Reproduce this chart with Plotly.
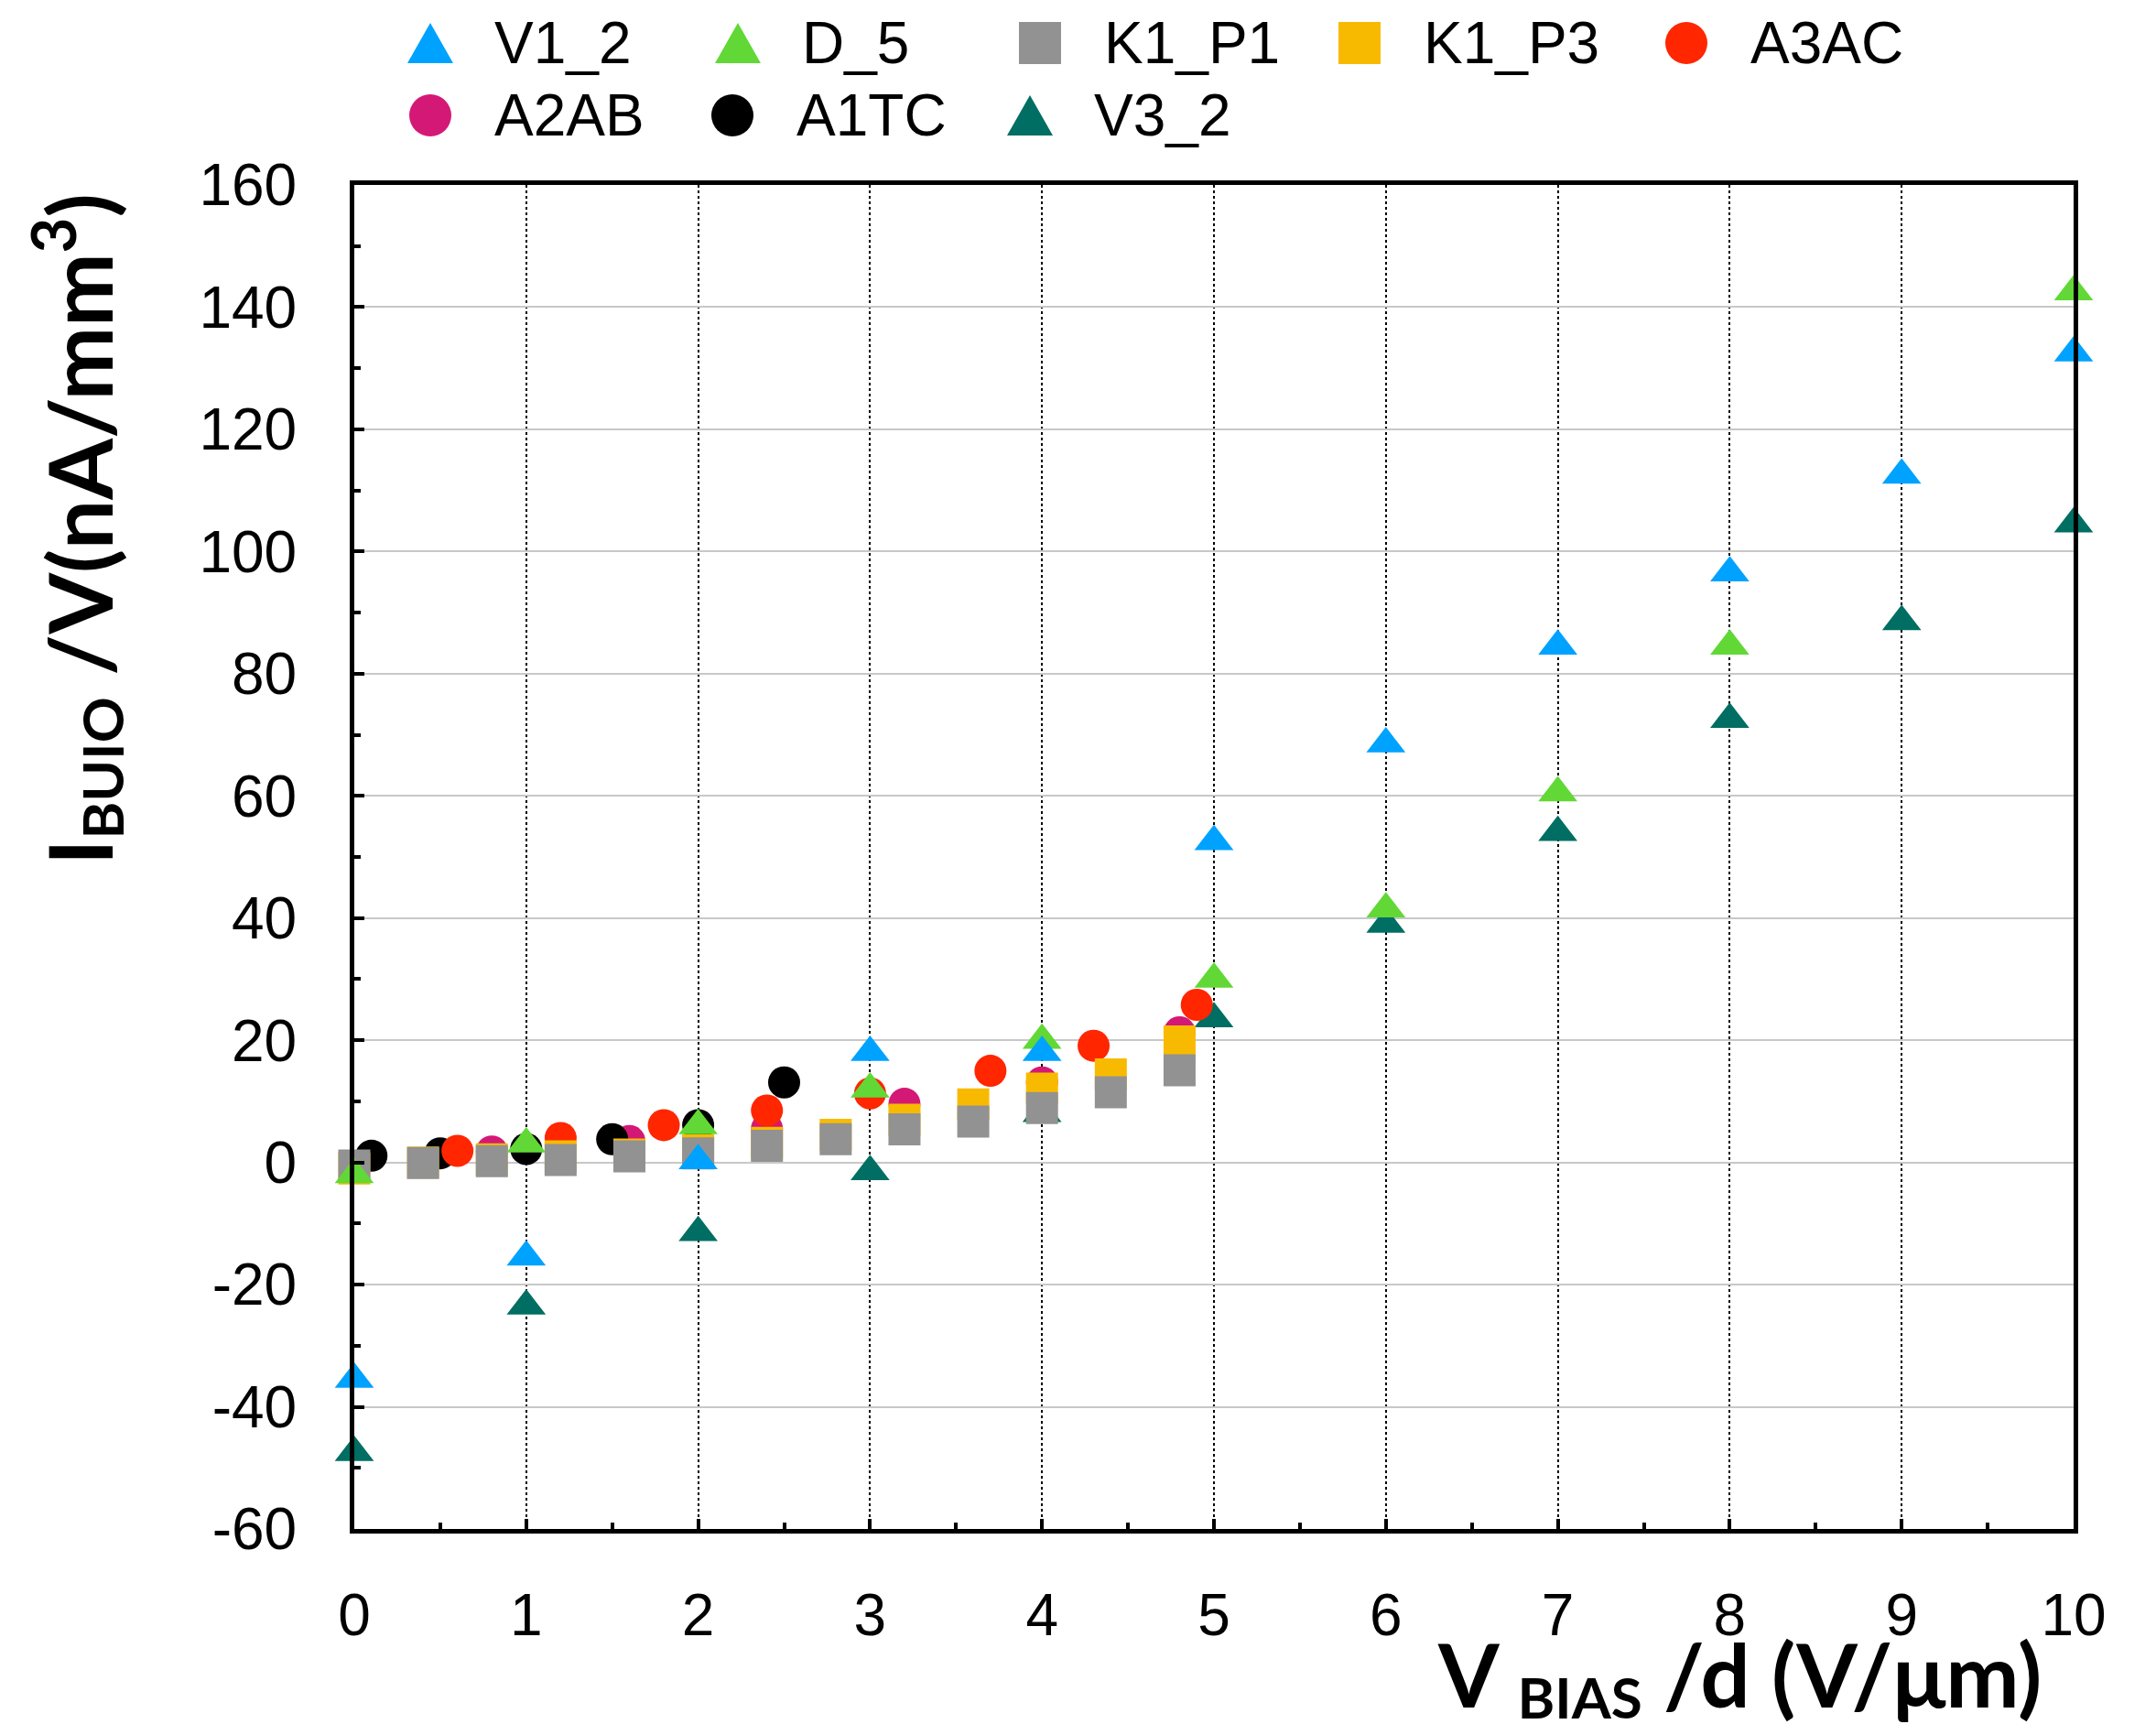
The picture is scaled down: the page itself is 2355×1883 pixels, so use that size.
import plotly.graph_objects as go

# ---------------- data ----------------
x_v1_2 = [0, 1, 2, 3, 4, 5, 6, 7, 8, 9, 10]
v1_2 = [-35.5, -15.5, 0.3, 18, 18, 52.5, 68.5, 84.5, 96.5, 112.5, 132.5]

x_d_5 = [0, 1, 2, 3, 4, 5, 6, 7, 8, 10]
d_5 = [-2, 3, 6, 12, 20, 30, 41.5, 60.5, 84.5, 142.5]

x_v3_2 = [0, 1, 2, 3, 4, 5, 6, 7, 8, 9, 10]
v3_2 = [-47.5, -23.5, -11.5, -1.5, 8, 23.5, 39, 54, 72.5, 88.5, 104.5]

x_k1 = [0, 0.4, 0.8, 1.2, 1.6, 2.0, 2.4, 2.8, 3.2, 3.6, 4.0, 4.4, 4.8]
k1_p1 = [-0.5, -0.1, 0.2, 0.4, 1.0, 1.5, 2.7, 3.8, 5.4, 6.7, 8.9, 11.5, 15.1]
k1_p3 = [-1.0, 0.0, 0.5, 1.0, 1.3, 2.0, 3.2, 4.5, 7.0, 9.5, 12.1, 14.4, 19.8]

x_a3ac = [0.6, 1.2, 1.8, 2.4, 3.0, 3.7, 4.3, 4.9]
a3ac = [1.9, 4.0, 6.1, 8.5, 11.3, 15.0, 19.1, 25.8]

x_a2ab = [0.8, 1.6, 2.4, 3.2, 4.0, 4.8]
a2ab = [1.8, 3.5, 5.5, 9.6, 13.1, 21.3]

x_a1tc = [0.1, 0.5, 1.0, 1.5, 2.0, 2.5]
a1tc = [1.1, 1.5, 2.2, 3.8, 6.1, 13.1]

x_ticks = [0, 1, 2, 3, 4, 5, 6, 7, 8, 9, 10]
x_ticklabels = ["0", "1", "2", "3", "4", "5", "6", "7", "8", "9", "10"]
y_ticks = [-60, -40, -20, 0, 20, 40, 60, 80, 100, 120, 140, 160]
y_ticklabels = ["-60", "-40", "-20", "0", "20", "40", "60", "80", "100", "120", "140", "160"]

# ---------------- styles ----------------
C_V1 = "#00A2FF"
C_D5 = "#61D836"
C_V3 = "#006E62"
C_K1P1 = "#929292"
C_K1P3 = "#F8BA00"
C_A3 = "#FF2600"
C_A2 = "#D41876"
C_A1 = "#000000"

W, H = 2355, 1883
ML, MR, MT, MB = 387, 90, 202, 213
PW, PH = W - ML - MR, H - MT - MB


def px(xp):
    return (xp - ML) / PW


def py(yp):
    return (H - MB - yp) / PH


TICK_FONT = dict(family="Liberation Sans, Arial, sans-serif", size=64, color="black")
TITLE_FONT = dict(family="Lato, DejaVu Sans, sans-serif", size=96, color="black", weight="bold")
SUB_STYLE = "font-size:62px;baseline-shift:-12px"

fig = go.Figure()

# drawing order (bottom -> top)
series = [
    ("V3_2", x_v3_2, v3_2, C_V3, "triangle-up", 37),
    ("A2AB", x_a2ab, a2ab, C_A2, "circle", 35),
    ("A1TC", x_a1tc, a1tc, C_A1, "circle", 35),
    ("A3AC", x_a3ac, a3ac, C_A3, "circle", 35),
    ("K1_P3", x_k1, k1_p3, C_K1P3, "square", 35),
    ("K1_P1", x_k1, k1_p1, C_K1P1, "square", 35),
    ("D_5", x_d_5, d_5, C_D5, "triangle-up", 37),
    ("V1_2", x_v1_2, v1_2, C_V1, "triangle-up", 37),
]
for name, xs, ys, col, sym, sz in series:
    fig.add_trace(go.Scatter(
        x=xs, y=ys, name=name, mode="markers", cliponaxis=False,
        marker=dict(color=col, symbol=sym, size=sz, line=dict(width=0)),
        showlegend=False,
    ))

# ---------------- custom legend ----------------
legend_items = [
    ("V1_2", C_V1, "tri", 470, 47),
    ("D_5", C_D5, "tri", 806, 47),
    ("K1_P1", C_K1P1, "sq", 1136, 47),
    ("K1_P3", C_K1P3, "sq", 1485, 47),
    ("A3AC", C_A3, "circ", 1842, 47),
    ("A2AB", C_A2, "circ", 470, 126),
    ("A1TC", C_A1, "circ", 800, 126),
    ("V3_2", C_V3, "tri", 1125, 126),
]
shapes = []
annotations = []
for name, col, kind, cx, cy in legend_items:
    if kind == "tri":
        w, h = 50, 44
        path = "M {:.5f},{:.5f} L {:.5f},{:.5f} L {:.5f},{:.5f} Z".format(
            px(cx - w / 2), py(cy + h / 2), px(cx + w / 2), py(cy + h / 2), px(cx), py(cy - h / 2))
        shapes.append(dict(type="path", xref="paper", yref="paper", path=path,
                           fillcolor=col, line=dict(width=0)))
    elif kind == "sq":
        s = 46
        shapes.append(dict(type="rect", xref="paper", yref="paper",
                           x0=px(cx - s / 2), x1=px(cx + s / 2), y0=py(cy + s / 2), y1=py(cy - s / 2),
                           fillcolor=col, line=dict(width=0)))
    else:
        d = 46
        shapes.append(dict(type="circle", xref="paper", yref="paper",
                           x0=px(cx - d / 2), x1=px(cx + d / 2), y0=py(cy + d / 2), y1=py(cy - d / 2),
                           fillcolor=col, line=dict(width=0)))
    annotations.append(dict(text=name, xref="paper", yref="paper", x=px(cx + 68), y=py(cy),
                            xanchor="left", yanchor="middle", showarrow=False, font=TICK_FONT))

# axis titles
annotations.append(dict(
    text="V <span style='" + SUB_STYLE + "'>BIAS</span> /d (V/μm)", xref="paper", yref="paper",
    x=px(1900), y=py(1830), xanchor="center", yanchor="middle", showarrow=False,
    font=TITLE_FONT))
annotations.append(dict(
    text="I<span style='" + SUB_STYLE + "'>BUIO</span> /V(nA/mm<sup>3</sup>)", xref="paper", yref="paper",
    x=px(82), y=py(578), xanchor="center", yanchor="middle", showarrow=False,
    textangle=-90, font=TITLE_FONT))

fig.update_layout(
    width=W, height=H,
    margin=dict(l=ML, r=MR, t=MT, b=MB, pad=0),
    paper_bgcolor="white", plot_bgcolor="white",
    showlegend=False,
    shapes=shapes, annotations=annotations,
)

fig.update_xaxes(
    range=[0, 10], tickvals=x_ticks, ticktext=x_ticklabels,
    showline=True, linecolor="black", linewidth=5, mirror=True,
    ticks="inside", ticklen=11, tickwidth=4, tickcolor="black",
    minor=dict(dtick=0.5, ticks="inside", ticklen=7, tickwidth=4, tickcolor="black", showgrid=False),
    showgrid=True, gridcolor="black", gridwidth=2, griddash="dot",
    zeroline=False, tickfont=TICK_FONT, ticklabelstandoff=34,
)
fig.update_yaxes(
    range=[-60, 160], tickvals=y_ticks, ticktext=y_ticklabels,
    showline=True, linecolor="black", linewidth=5, mirror=True,
    ticks="inside", ticklen=11, tickwidth=4, tickcolor="black",
    minor=dict(dtick=10, ticks="inside", ticklen=7, tickwidth=4, tickcolor="black", showgrid=False),
    showgrid=True, gridcolor="#c8c8c8", gridwidth=2,
    zeroline=False, tickfont=TICK_FONT, ticklabelstandoff=45,
)

fig.write_html("out.html")
